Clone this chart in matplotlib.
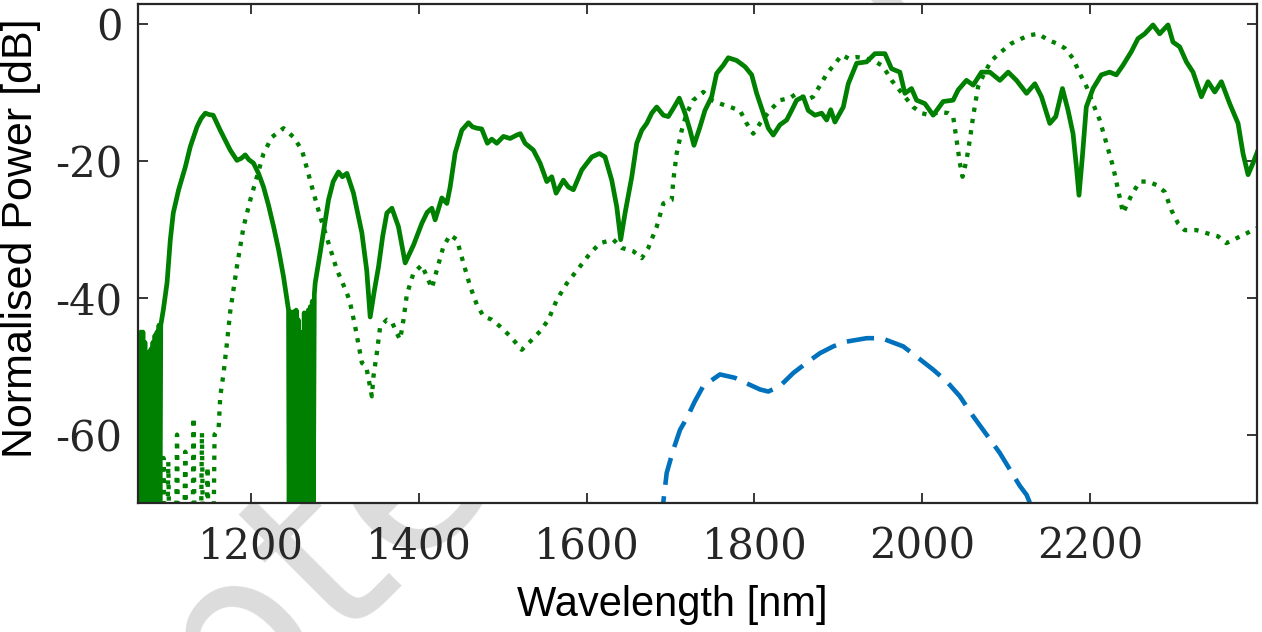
#!/usr/bin/env python3
# normalised output spectra vs wavelength
import matplotlib
matplotlib.use("Agg")
import matplotlib.pyplot as plt

# ---------- data (wavelength nm, power dB) ----------
solid_nm = [1064.0, 1065.2, 1066.4, 1067.6, 1068.8, 1070.0, 1071.2, 1072.4, 1073.6, 1074.8,
            1076.0, 1077.2, 1078.4, 1079.6, 1080.8, 1082.0, 1083.2, 1084.4, 1085.6, 1086.8,
            1088.0, 1089.2, 1090.4, 1091.6, 1092.5, 1095.5, 1100.0, 1103.9, 1107.4, 1113.8,
            1121.7, 1127.7, 1135.7, 1140.5, 1145.6, 1150.0, 1155.0, 1163.4, 1175.3, 1183.3,
            1188.5, 1193.2, 1197.5, 1203.0, 1209.0, 1215.0, 1221.0, 1227.0, 1233.0, 1238.8,
            1244.8, 1245.5, 1246.7, 1247.9, 1249.1, 1250.3, 1251.5, 1252.7, 1253.9, 1255.1,
            1256.3, 1257.5, 1258.7, 1259.9, 1261.1, 1262.3, 1263.5, 1264.7, 1265.9, 1267.1,
            1268.3, 1269.5, 1270.7, 1271.9, 1273.1, 1274.3, 1275.5, 1276.6, 1282.5, 1287.5,
            1292.4, 1298.0, 1304.3, 1309.0, 1314.4, 1322.2, 1332.2, 1338.0, 1342.1, 1347.0,
            1352.0, 1357.0, 1362.0, 1368.0, 1375.8, 1383.8, 1393.7, 1403.7, 1410.0, 1415.6,
            1419.5, 1427.5, 1433.5, 1437.4, 1443.4, 1451.3, 1459.2, 1464.0, 1469.2, 1475.0,
            1481.8, 1487.0, 1493.0, 1500.9, 1508.9, 1516.9, 1521.0, 1526.7, 1536.6, 1544.6,
            1552.6, 1558.5, 1563.7, 1572.4, 1578.3, 1584.3, 1594.3, 1606.2, 1615.3, 1622.0,
            1630.0, 1636.0, 1640.7, 1645.9, 1653.9, 1659.8, 1665.8, 1671.7, 1677.7, 1683.6,
            1691.5, 1697.4, 1703.4, 1710.5, 1717.3, 1723.3, 1728.0, 1735.2, 1741.1, 1749.1,
            1755.0, 1762.9, 1768.9, 1778.9, 1788.8, 1796.8, 1802.7, 1810.6, 1816.6, 1822.5,
            1830.5, 1838.5, 1844.4, 1850.4, 1858.3, 1864.2, 1872.2, 1880.2, 1886.1, 1891.0,
            1896.0, 1906.0, 1911.9, 1921.9, 1933.8, 1943.7, 1955.6, 1963.5, 1973.4, 1979.4,
            1987.3, 1993.3, 2003.2, 2013.1, 2025.0, 2036.9, 2042.9, 2052.8, 2060.8, 2070.7,
            2080.6, 2092.6, 2102.5, 2112.4, 2124.4, 2134.3, 2142.2, 2152.1, 2159.2, 2167.2,
            2173.9, 2179.8, 2183.8, 2186.9, 2190.9, 2195.6, 2203.6, 2213.5, 2223.4, 2231.4,
            2239.3, 2249.3, 2257.2, 2265.2, 2275.1, 2283.0, 2293.0, 2298.9, 2306.9, 2314.9,
            2322.8, 2332.8, 2340.7, 2348.7, 2356.6, 2366.5, 2376.5, 2382.4, 2388.4, 2394.3,
            2400.3]
solid_db = [-50.0, -75.0, -47.0, -75.0, -45.0, -75.0, -45.0, -75.0, -46.5, -75.0,
            -48.0, -75.0, -49.0, -75.0, -47.5, -75.0, -46.5, -75.0, -45.5, -75.0,
            -45.0, -75.0, -44.0, -75.0, -44.0, -41.8, -37.8, -31.5, -27.6, -24.2,
            -20.9, -17.9, -15.0, -13.8, -13.0, -13.2, -13.3, -15.5, -18.4, -19.9,
            -19.6, -19.1, -19.8, -20.3, -21.8, -23.8, -26.5, -29.6, -33.0, -36.9,
            -41.8, -75.0, -42.0, -75.0, -42.5, -75.0, -42.0, -75.0, -41.8, -75.0,
            -43.2, -75.0, -45.0, -75.0, -50.0, -75.0, -42.2, -75.0, -42.5, -75.0,
            -41.8, -75.0, -41.3, -75.0, -40.5, -75.0, -39.5, -37.8, -33.4, -29.5,
            -25.7, -23.0, -21.6, -22.3, -21.8, -24.7, -30.5, -36.0, -42.8, -39.0,
            -35.5, -31.0, -27.6, -26.9, -29.6, -34.9, -32.3, -29.1, -27.5, -26.9,
            -28.6, -25.4, -26.2, -23.8, -18.8, -15.5, -14.4, -15.0, -15.2, -15.3,
            -17.4, -16.8, -17.4, -16.4, -16.7, -16.2, -16.0, -17.4, -18.4, -20.3,
            -23.0, -22.3, -24.7, -22.8, -23.8, -24.2, -21.3, -19.4, -18.9, -19.4,
            -22.8, -26.7, -31.5, -27.6, -22.3, -17.4, -15.5, -14.5, -13.0, -12.1,
            -13.3, -13.5, -12.3, -10.8, -13.0, -15.5, -17.7, -15.0, -12.6, -10.6,
            -7.2, -6.0, -4.9, -5.3, -6.2, -7.4, -10.1, -13.0, -15.2, -16.2,
            -14.7, -14.0, -12.6, -11.1, -10.6, -12.6, -13.3, -13.0, -14.0, -12.5,
            -14.3, -12.1, -8.7, -5.7, -5.5, -4.3, -4.3, -6.5, -7.0, -10.1,
            -9.4, -11.1, -11.6, -13.3, -11.3, -11.1, -9.6, -8.2, -8.9, -7.0,
            -7.0, -8.2, -7.0, -8.2, -10.1, -8.7, -10.6, -14.5, -13.5, -9.4,
            -12.6, -16.0, -20.8, -25.0, -19.4, -12.1, -9.4, -7.4, -7.0, -7.4,
            -6.0, -4.0, -2.1, -1.4, -0.1, -1.4, -0.1, -2.6, -3.3, -5.5,
            -7.0, -10.6, -8.4, -9.9, -8.4, -11.6, -14.5, -18.9, -22.0, -20.3,
            -18.4]

dotted_nm = [1064.0, 1094.5, 1095.7, 1097.0, 1100.3, 1101.5, 1102.7, 1110.7, 1111.9, 1113.1,
             1120.5, 1121.7, 1122.9, 1130.4, 1131.6, 1132.8, 1140.4, 1141.6, 1142.8, 1147.1,
             1148.3, 1149.5, 1155.4, 1156.6, 1161.4, 1163.4, 1167.4, 1171.4, 1175.3, 1183.3,
             1191.2, 1199.2, 1207.1, 1215.0, 1225.0, 1238.8, 1250.7, 1260.8, 1272.7, 1282.5,
             1292.4, 1302.4, 1314.4, 1318.3, 1324.2, 1332.2, 1337.3, 1344.1, 1346.0, 1350.1,
             1354.0, 1362.0, 1368.0, 1373.9, 1377.8, 1381.8, 1385.8, 1393.7, 1403.7, 1409.6,
             1415.6, 1421.6, 1429.4, 1437.4, 1445.4, 1453.2, 1461.2, 1469.2, 1477.1, 1487.1,
             1497.0, 1508.9, 1522.8, 1532.7, 1544.6, 1554.5, 1564.5, 1576.4, 1592.3, 1604.2,
             1616.1, 1631.9, 1641.9, 1655.8, 1665.8, 1673.6, 1683.6, 1691.5, 1701.5, 1703.4,
             1707.4, 1713.4, 1719.4, 1727.2, 1739.1, 1749.1, 1759.0, 1770.9, 1782.8, 1790.8,
             1798.7, 1806.7, 1818.6, 1830.5, 1842.4, 1850.4, 1862.3, 1870.0, 1878.0, 1886.6,
             1896.4, 1904.3, 1912.2, 1922.2, 1932.1, 1941.6, 1951.6, 1957.6, 1963.6, 1971.4,
             1979.4, 1989.3, 1999.3, 2009.2, 2021.1, 2031.0, 2036.9, 2041.0, 2044.9, 2048.1,
             2052.8, 2056.8, 2060.7, 2066.7, 2074.7, 2082.6, 2094.5, 2106.4, 2118.3, 2128.2,
             2138.2, 2150.1, 2160.1, 2170.0, 2179.8, 2187.8, 2195.8, 2203.6, 2211.6, 2219.6,
             2227.5, 2233.5, 2239.4, 2249.4, 2259.3, 2269.2, 2279.2, 2289.1, 2297.1, 2304.9,
             2312.9, 2326.8, 2340.6, 2352.5, 2362.5, 2374.4, 2386.3, 2398.2]
dotted_db = [-75.0, -75.0, -63.4, -75.0, -75.0, -64.0, -75.0, -75.0, -60.0, -75.0,
             -75.0, -62.5, -75.0, -75.0, -57.5, -75.0, -75.0, -59.7, -75.0, -75.0,
             -64.7, -75.0, -75.0, -60.0, -59.3, -54.4, -51.0, -46.6, -42.0, -35.4,
             -29.6, -25.7, -22.3, -18.9, -16.5, -15.2, -16.5, -18.4, -23.8, -28.1,
             -32.0, -35.9, -39.3, -40.8, -44.2, -49.5, -50.0, -54.4, -51.5, -48.0,
             -44.2, -43.2, -43.5, -45.2, -46.1, -43.2, -39.5, -36.4, -35.2, -36.9,
             -38.6, -35.9, -32.5, -30.8, -31.5, -34.9, -38.3, -41.0, -42.7, -43.2,
             -44.2, -45.6, -47.6, -46.4, -44.9, -43.2, -40.3, -37.9, -35.4, -33.5,
             -32.0, -31.5, -32.7, -33.2, -34.2, -32.7, -29.6, -26.2, -25.7, -22.8,
             -18.9, -15.5, -13.0, -11.1, -9.9, -11.1, -11.6, -12.1, -12.6, -14.5,
             -16.0, -14.5, -12.6, -11.1, -10.8, -10.1, -11.1, -10.6, -9.0, -7.2,
             -5.7, -4.5, -5.0, -4.8, -5.0, -5.3, -6.0, -7.0, -8.2, -9.4,
             -10.6, -12.1, -13.0, -13.3, -12.8, -13.0, -13.5, -16.9, -20.3, -22.3,
             -19.9, -16.9, -13.5, -9.1, -7.0, -5.3, -4.0, -2.8, -2.1, -1.6,
             -1.4, -2.3, -2.8, -3.5, -5.0, -7.2, -9.1, -11.6, -14.0, -17.4,
             -20.8, -24.2, -27.6, -25.0, -23.0, -23.0, -23.5, -24.5, -27.2, -29.1,
             -30.1, -30.1, -30.6, -31.0, -32.0, -31.3, -30.6, -29.8]

dashed_nm = [1688.5, 1695.5, 1703.4, 1711.4, 1719.4, 1729.2, 1739.1, 1759.0, 1776.9, 1790.8,
             1806.7, 1816.6, 1830.5, 1846.3, 1862.3, 1878.1, 1894.0, 1909.9, 1933.8, 1951.6,
             1977.4, 1993.3, 2013.1, 2029.0, 2044.9, 2060.7, 2076.7, 2092.6, 2104.5, 2116.4,
             2124.4, 2131.9]
dashed_db = [-73.0, -65.6, -62.2, -59.3, -57.6, -55.1, -52.9, -51.2, -51.7, -52.5,
             -53.4, -53.7, -52.9, -51.0, -49.5, -48.1, -47.1, -46.4, -45.9, -45.9,
             -47.1, -48.6, -50.5, -52.2, -54.4, -57.3, -60.0, -62.7, -65.1, -67.5,
             -68.8, -71.0]

x_ticks = [1200, 1400, 1600, 1800, 2000, 2200]
y_ticks = [0, -20, -40, -60]

GREEN = "#008000"
BLUE = "#0072BD"
AXC = "#262626"

# ---------- figure ----------
fig = plt.figure(figsize=(12.62, 6.32), dpi=100, facecolor="white")

# faint watermark, sits behind the (white) axes
fig.text(0.53, 0.64, "Accepted Manuscript", rotation=45, rotation_mode="anchor",
         ha="center", va="center", fontsize=170, color="#dcdcdc",
         family="DejaVu Sans", zorder=-10)

ax = fig.add_axes([0.1091, 0.2041, 0.8869, 0.7900])
ax.set_facecolor("white")

ax.plot(solid_nm, solid_db, color=GREEN, lw=3.4, solid_joinstyle="round")
ax.plot(dotted_nm, dotted_db, color=GREEN, lw=3.1, linestyle=":")
ax.plot(dashed_nm, dashed_db, color=BLUE, lw=3.3, linestyle=(0, (6, 2.5)))

ax.set_xlim(1065, 2399)
ax.set_ylim(-70, 3)
ax.set_xticks(x_ticks)
ax.set_yticks(y_ticks)
ax.set_xticklabels([str(v) for v in x_ticks], family="DejaVu Serif", fontsize=30, color=AXC)
ax.set_yticklabels([str(v) for v in y_ticks], family="DejaVu Serif", fontsize=30, color=AXC)
ax.tick_params(direction="in", length=7.5, width=1.3, color=AXC, top=True, right=True)
ax.tick_params(axis="x", pad=16)
ax.tick_params(axis="y", pad=11)
for s in ax.spines.values():
    s.set_linewidth(1.6)
    s.set_color(AXC)

fig.text(672 / 1262, 1 - 605 / 632, "Wavelength [nm]", ha="center", va="center",
         family="Liberation Sans", fontsize=30, color="black")
fig.text(21 / 1262, 1 - 238 / 632, "Normalised Power [dB]", ha="center", va="center",
         rotation=90, family="Liberation Sans", fontsize=31, color="black")

fig.savefig("out.png", dpi=100, facecolor="white")
